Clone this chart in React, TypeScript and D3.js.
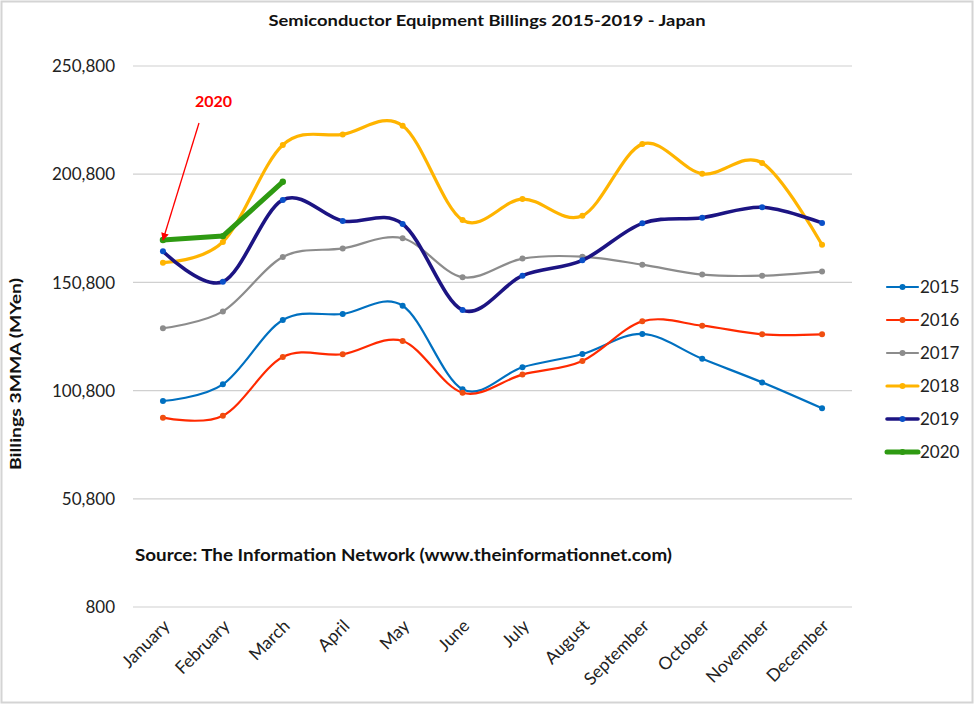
import React, { useEffect, useRef } from "react";
import * as d3 from "d3";

const months = [
  "January", "February", "March", "April", "May", "June",
  "July", "August", "September", "October", "November", "December",
];

const years = ["2015", "2016", "2017", "2018", "2019", "2020"];

const v2015 = [96000, 103700, 133400, 136200, 140000, 101400, 111600, 117700, 127000, 115500, 104600, 92600];
const v2016 = [88300, 89200, 116300, 117600, 123700, 99800, 108200, 114500, 132800, 130800, 126800, 126800];
const v2017 = [129600, 137400, 162500, 166500, 171200, 153200, 161800, 162700, 159000, 154400, 153900, 155800];
const v2018 = [159900, 169500, 214300, 219200, 223200, 179600, 189300, 181600, 214700, 201000, 206000, 168200];
const v2019 = [165200, 151100, 188900, 179200, 177800, 138000, 153900, 161000, 178100, 180700, 185500, 178300];
const v2020 = [170400, 172200, 197300];

const yTicks = [800, 50800, 100800, 150800, 200800, 250800];

const seriesStyle = {
  "2015": { line: "#0070C0", dot: "#0070C0", width: 2.2, smooth: true },
  "2016": { line: "#FF2A00", dot: "#F04E10", width: 2.2, smooth: true },
  "2017": { line: "#8C8C8C", dot: "#8C8C8C", width: 2.2, smooth: true },
  "2018": { line: "#FFB400", dot: "#FFB400", width: 3.2, smooth: true },
  "2019": { line: "#1C1483", dot: "#0A50C8", width: 3.6, smooth: true },
  "2020": { line: "#2E9A12", dot: "#2E9A12", width: 5, smooth: false },
};

const App = () => {
  const ref = useRef(null);

  useEffect(() => {
    const width = 974;
    const height = 704;
    const font = "Lato, 'Open Sans', sans-serif";

    d3.select(ref.current).selectAll("*").remove();

    const svg = d3
      .select(ref.current)
      .append("svg")
      .attr("width", width)
      .attr("height", height)
      .style("position", "absolute")
      .style("left", 0)
      .style("top", 0)
      .style("background", "#fff")
      .style("font-family", font);

    // chart frame
    svg.append("rect")
      .attr("x", 1.5).attr("y", 1.5)
      .attr("width", width - 3).attr("height", height - 3)
      .attr("fill", "#fff")
      .attr("stroke", "#d4d4d4")
      .attr("stroke-width", 2);

    const x = d3.scaleBand().domain(months).range([133, 852]);
    const cx = (m) => x(m) + x.bandwidth() / 2;
    const y = d3.scaleLinear().domain([800, 250800]).range([607, 66]);

    // gridlines
    svg.append("g")
      .selectAll("line")
      .data(yTicks)
      .enter()
      .append("line")
      .attr("x1", 133).attr("x2", 852)
      .attr("y1", (d) => y(d)).attr("y2", (d) => y(d))
      .attr("stroke", "#d0d0d0")
      .attr("stroke-width", 1.2);

    // y tick labels
    svg.append("g")
      .selectAll("text")
      .data(yTicks)
      .enter()
      .append("text")
      .attr("x", 115)
      .attr("y", (d) => y(d))
      .attr("dy", "0.36em")
      .attr("text-anchor", "end")
      .attr("font-size", 17)
      .attr("fill", "#222")
      .text((d) => d3.format(",")(d));

    // x tick labels
    svg.append("g")
      .selectAll("text")
      .data(months)
      .enter()
      .append("text")
      .attr("text-anchor", "end")
      .attr("transform", (d) => `translate(${cx(d) + 8},${627}) rotate(-45)`)
      .attr("font-size", 17.5)
      .attr("fill", "#222")
      .text((d) => d);

    // title
    svg.append("text")
      .attr("x", 487).attr("y", 26)
      .attr("text-anchor", "middle")
      .attr("font-size", 16)
      .attr("font-weight", "bold")
      .attr("textLength", 437)
      .attr("lengthAdjust", "spacingAndGlyphs")
      .attr("fill", "#111")
      .text("Semiconductor Equipment Billings 2015-2019 - Japan");

    // y axis title
    svg.append("text")
      .attr("transform", "translate(21,374) rotate(-90)")
      .attr("text-anchor", "middle")
      .attr("font-size", 16)
      .attr("font-weight", "bold")
      .attr("textLength", 192)
      .attr("lengthAdjust", "spacingAndGlyphs")
      .attr("fill", "#111")
      .text("Billings 3MMA (MYen)");

    // source note
    svg.append("text")
      .attr("x", 135).attr("y", 561)
      .attr("font-size", 17)
      .attr("font-weight", "bold")
      .attr("textLength", 537)
      .attr("lengthAdjust", "spacingAndGlyphs")
      .attr("fill", "#111")
      .text("Source: The Information Network (www.theinformationnet.com)");

    const seriesData = [v2015, v2016, v2017, v2018, v2019, v2020];

    const g = svg.append("g");
    years.forEach((yr, i) => {
      const st = seriesStyle[yr];
      const pts = seriesData[i].map((v, j) => [cx(months[j]), y(v)]);
      const line = d3.line()
        .x((d) => d[0])
        .y((d) => d[1])
        .curve(st.smooth ? d3.curveCardinal.tension(0) : d3.curveLinear);
      g.append("path")
        .attr("d", line(pts))
        .attr("fill", "none")
        .attr("stroke", st.line)
        .attr("stroke-width", st.width)
        .attr("stroke-linejoin", "round")
        .attr("stroke-linecap", "round");
      g.append("g")
        .selectAll("circle")
        .data(pts)
        .enter()
        .append("circle")
        .attr("cx", (d) => d[0])
        .attr("cy", (d) => d[1])
        .attr("r", yr === "2020" ? 3.2 : 3)
        .attr("fill", st.dot);
    });

    // 2020 annotation
    svg.append("defs")
      .append("marker")
      .attr("id", "arrow")
      .attr("viewBox", "0 0 10 10")
      .attr("refX", 9).attr("refY", 5)
      .attr("markerWidth", 6).attr("markerHeight", 6)
      .attr("orient", "auto")
      .append("path")
      .attr("d", "M0,0 L10,5 L0,10 z")
      .attr("fill", "#FF0000");

    svg.append("line")
      .attr("x1", 199).attr("y1", 123)
      .attr("x2", cx("January")).attr("y2", y(v2020[0]))
      .attr("stroke", "#FF0000")
      .attr("stroke-width", 1.3)
      .attr("marker-end", "url(#arrow)");

    svg.append("text")
      .attr("x", 195).attr("y", 107)
      .attr("font-size", 16)
      .attr("font-weight", "bold")
      .attr("fill", "#FF0000")
      .text("2020");

    // legend
    const legend = svg.append("g");
    years.forEach((yr, i) => {
      const st = seriesStyle[yr];
      const ly = 287 + i * 33;
      legend.append("line")
        .attr("x1", 887).attr("x2", 918)
        .attr("y1", ly).attr("y2", ly)
        .attr("stroke", st.line)
        .attr("stroke-width", st.width)
        .attr("stroke-linecap", "round");
      legend.append("circle")
        .attr("cx", 902.5).attr("cy", ly)
        .attr("r", 3)
        .attr("fill", st.dot);
      legend.append("text")
        .attr("x", 920).attr("y", ly)
        .attr("dy", "0.36em")
        .attr("font-size", 17)
        .attr("fill", "#222")
        .text(yr);
    });
  }, []);

  return <div ref={ref}></div>;
};

export default App;
